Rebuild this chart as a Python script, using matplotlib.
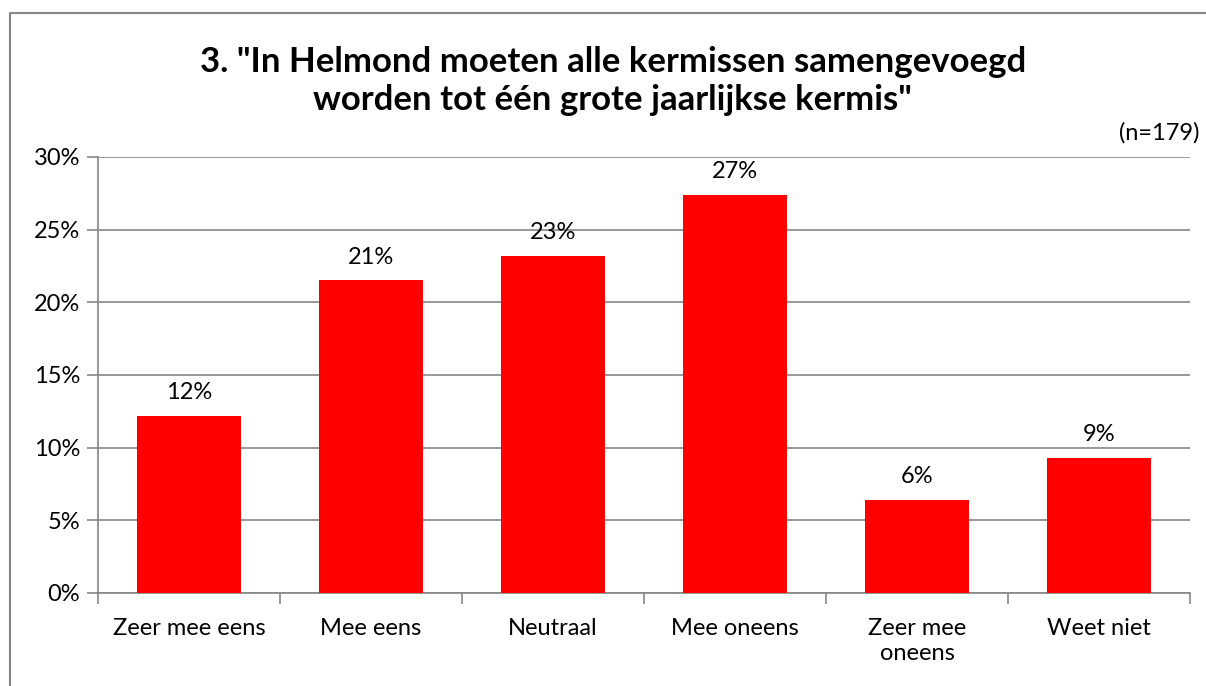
import matplotlib.pyplot as plt
from matplotlib.lines import Line2D
from matplotlib.ticker import FuncFormatter

categories = ['Zeer mee eens', 'Mee eens', 'Neutraal', 'Mee oneens', 'Zeer mee\noneens', 'Weet niet']
values = [12.2, 21.5, 23.2, 27.4, 6.4, 9.3]
labels = ['12%', '21%', '23%', '27%', '6%', '9%']

plt.rcParams['font.family'] = ['Lato', 'DejaVu Sans']
grey = '#868686'

fig = plt.figure(figsize=(12.06, 6.86), dpi=100)
ax = fig.add_axes([0.0813, 0.1356, 0.9054, 0.6356])

x = range(len(categories))
bars = ax.bar(x, values, width=0.57, color='#ff0000', zorder=3)
for b, lab in zip(bars, labels):
    ax.annotate(lab, (b.get_x() + b.get_width() / 2, b.get_height()),
                xytext=(0, 9), textcoords='offset points',
                ha='center', va='bottom', fontsize=17)

ax.set_xlim(-0.5, len(categories) - 0.5)
ax.set_ylim(0, 30)
ax.set_yticks(range(0, 31, 5))
ax.yaxis.set_major_formatter(FuncFormatter(lambda v, p: f'{v:.0f}%'))
ax.set_xticks([i - 0.5 for i in range(len(categories) + 1)], minor=False)
ax.set_xticklabels([])
ax.set_xticks(list(x), minor=True)
ax.set_xticklabels(categories, minor=True, fontsize=17, linespacing=1.25)
ax.tick_params(axis='x', which='minor', length=0, pad=18)
ax.tick_params(axis='x', which='major', length=8, color=grey, width=1.2)
ax.tick_params(axis='y', length=8, color=grey, width=1.2, labelsize=17, pad=5)

ax.grid(axis='y', color=grey, linewidth=1.2, zorder=0)
for s in ['top', 'right']:
    ax.spines[s].set_visible(False)
for s in ['left', 'bottom']:
    ax.spines[s].set_color(grey)
    ax.spines[s].set_linewidth(1.2)

fig.text(0.508, 0.882, '3. "In Helmond moeten alle kermissen samengevoegd\nworden tot één grote jaarlijkse kermis"',
         ha='center', va='center', fontsize=25, fontweight='bold', linespacing=1.2)
fig.text(0.995, 0.806, '(n=179)', ha='right', va='center', fontsize=17)

# chart border (left and top visible)
fig.add_artist(Line2D([0.0085, 0.0085, 1.0], [0.0, 0.981, 0.981],
                      transform=fig.transFigure, color=grey, linewidth=1.5))

plt.savefig('out.png', dpi=100)
